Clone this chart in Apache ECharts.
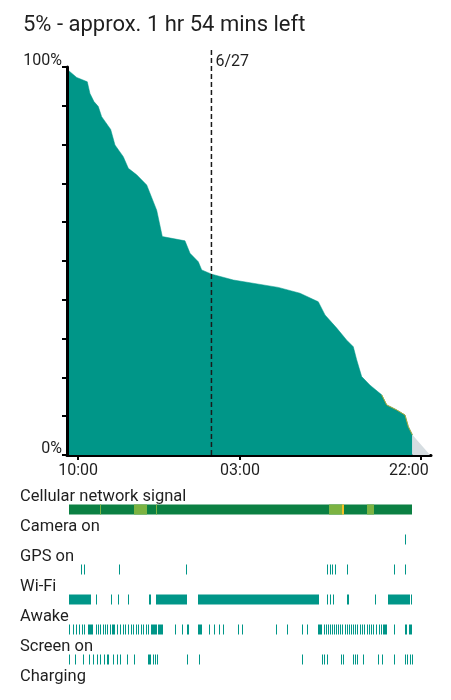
<!DOCTYPE html>
<html>
<head>
<meta charset="utf-8">
<title>Battery</title>
<script src="https://cdn.jsdelivr.net/npm/echarts@6/dist/echarts.min.js"></script>
<style>
  html, body { margin: 0; padding: 0; background: #fff; }
  #main { width: 451px; height: 700px; }
</style>
</head>
<body>
<div id="main"></div>
<script>
// hours counted from 6/26 00:00, so 24 = midnight of 6/27
const titleText = '5% - approx. 1 hr 54 mins left'
const axisMin = 8.83
const axisMax = 47.06
const tickHours = [10, 27, 46]
const dayBoundary = [24, '6/27']

const batteryLevel = [
  [9.04, 99.0], [9.85, 97.3], [10.96, 96.2], [11.24, 93.2], [11.66, 91.1],
  [12.12, 89.8], [12.47, 87.2], [13.42, 83.9], [13.87, 79.9], [14.74, 76.9],
  [15.27, 73.9], [16.15, 72.2], [17.20, 69.6], [18.25, 63.1], [18.84, 56.3],
  [21.22, 55.2], [21.75, 52.0], [22.62, 49.8], [22.98, 47.7], [24.03, 46.6],
  [26.30, 45.1], [31.02, 43.2], [33.30, 41.7], [35.22, 39.5], [35.93, 36.1],
  [37.16, 32.7], [38.21, 29.6], [38.90, 27.9], [39.26, 24.5], [39.78, 20.2],
  [40.66, 18.0], [41.88, 15.5], [42.41, 12.9], [43.46, 11.6], [44.33, 10.3],
  [44.68, 7.3], [45.10, 5.2]
]
const projection = [[45.10, 5.2], [46.96, 0]]

const rowNames = ['Cellular network signal', 'Camera on', 'GPS on', 'Wi-Fi', 'Awake', 'Screen on', 'Charging']

const cellularRuns = [
  [9.04, 45.10, 'great'], [12.30, 12.42, 'good'], [15.87, 17.26, 'good'],
  [18.20, 18.32, 'good'], [36.38, 37.68, 'good'], [37.68, 37.88, 'moderate'],
  [40.31, 41.11, 'good']
]
const cameraRuns = [[44.30, 44.38]]
const gpsRuns = [
  [10.27, 10.35], [10.64, 10.72], [14.24, 14.40], [21.36, 21.44], [36.17, 36.25],
  [36.41, 36.51], [36.70, 36.80], [36.97, 37.05], [38.22, 38.38], [43.14, 43.22],
  [44.32, 44.40]
]
const wifiRuns = [
  [9.07, 11.35], [11.91, 11.99], [13.48, 13.56], [14.22, 14.34], [15.23, 15.31],
  [17.43, 17.51], [17.58, 17.66], [18.15, 21.40], [22.62, 35.30], [36.17, 36.25],
  [36.41, 36.49], [36.76, 36.84], [38.21, 38.42], [41.21, 41.29], [42.51, 44.86],
  [45.00, 45.10]
]
const awakeRuns = [
  [9.07, 9.17], [9.43, 9.53], [9.77, 9.87], [10.12, 10.22], [10.37, 10.47],
  [10.61, 10.71], [11.07, 11.59], [11.87, 11.97], [12.12, 12.22], [12.29, 12.39],
  [12.58, 12.68], [12.82, 12.92], [13.06, 13.16], [13.34, 13.44], [13.52, 13.87],
  [14.11, 14.21], [14.39, 14.49], [14.68, 14.78], [14.92, 15.02], [15.27, 15.37],
  [15.52, 15.62], [15.79, 15.89], [16.08, 16.18], [16.32, 16.42], [16.57, 16.67],
  [16.84, 16.94], [17.13, 17.23], [17.37, 17.47], [17.62, 18.25], [18.42, 18.88],
  [20.17, 20.25], [20.88, 20.96], [21.40, 21.67], [22.62, 22.98], [23.74, 23.82],
  [24.27, 24.35], [24.83, 24.91], [25.25, 25.33], [26.82, 26.90], [27.18, 27.26],
  [30.78, 30.86], [31.91, 31.99], [33.48, 33.56], [34.01, 34.09], [35.22, 35.61],
  [35.77, 35.87], [35.98, 36.08], [36.19, 36.29], [36.40, 36.50], [36.61, 36.71],
  [36.82, 36.92], [37.03, 37.13], [37.24, 37.34], [37.50, 37.60], [37.71, 37.81],
  [37.98, 38.08], [38.24, 38.34], [38.45, 38.55], [38.66, 38.76], [38.87, 38.97],
  [39.13, 39.23], [39.34, 39.44], [39.61, 39.71], [39.82, 39.92], [40.03, 40.13],
  [40.29, 40.39], [40.55, 40.65], [40.76, 40.86], [41.02, 41.12], [41.29, 41.39],
  [41.55, 41.65], [41.81, 41.91], [41.99, 42.47], [43.18, 43.28], [44.33, 44.59],
  [44.75, 45.10]
]
const screenRuns = [
  [9.07, 9.17], [9.67, 9.77], [10.54, 10.64], [11.17, 11.27], [11.59, 11.69],
  [11.95, 12.05], [12.29, 12.39], [12.71, 12.81], [13.06, 13.27], [13.69, 13.79],
  [14.11, 14.21], [14.39, 14.50], [15.10, 15.20], [15.87, 15.97], [17.37, 17.62],
  [17.89, 18.00], [18.10, 18.20], [18.30, 18.42], [21.40, 21.50], [22.72, 22.82],
  [33.48, 33.56], [35.58, 35.66], [35.82, 35.90], [36.17, 36.25], [37.58, 37.66],
  [37.85, 37.93], [38.90, 38.98], [39.13, 39.21], [39.32, 39.40], [39.95, 40.03],
  [41.53, 41.61], [41.88, 41.96], [43.18, 43.26], [44.33, 44.41], [44.57, 44.65],
  [44.86, 44.94], [45.02, 45.10]
]

const teal = '#009688'
const signalColors = { great: '#0b8043', good: '#7cb342', moderate: '#f6c026' }
const font = 'Roboto'
const textColor = '#1f1f1f'

function pad2(n) {
  return (n < 10 ? '0' : '') + n
}

// one rect per run, snapped to whole pixels so thin runs stay crisp
function renderRun(params, api) {
  const row = api.value(2)
  const p0 = api.coord([api.value(0), row])
  const p1 = api.coord([api.value(1), row])
  const x0 = Math.round(p0[0])
  const x1 = Math.max(Math.round(p1[0]), x0 + 1)
  const h = 10
  return {
    type: 'rect',
    shape: { x: x0, y: p0[1] - h / 2, width: x1 - x0, height: h },
    style: { fill: api.visual('color') }
  }
}

function runSeries(name, runs, colorOf) {
  const row = rowNames.indexOf(name)
  return {
    type: 'custom',
    name: name,
    xAxisIndex: 1,
    yAxisIndex: 1,
    renderItem: renderRun,
    encode: { x: [0, 1], y: 2 },
    data: runs.map(r => ({
      value: [r[0], r[1], row],
      itemStyle: { color: colorOf ? colorOf(r) : teal }
    }))
  }
}

const chart = echarts.init(document.getElementById('main'))

const option = {
  animation: false,
  backgroundColor: '#fff',
  textStyle: { fontFamily: font },
  title: {
    text: titleText,
    left: 18,
    top: 9,
    textStyle: { fontFamily: font, fontSize: 22, fontWeight: 'normal', color: textColor }
  },
  grid: [
    { left: 67, right: 20, top: 67, bottom: 245, outerBoundsMode: 'none' },
    { left: 67, right: 20, top: 494.5, height: 210, outerBoundsMode: 'none' },
    { left: 67, right: 20, top: 50, bottom: 245, outerBoundsMode: 'none' }
  ],
  xAxis: [
    {
      type: 'value',
      gridIndex: 0,
      min: axisMin,
      max: axisMax,
      splitLine: { show: false },
      axisLine: { show: true, lineStyle: { color: '#000', width: 3 } },
      axisTick: { show: true, length: 5, lineStyle: { color: '#000', width: 2 }, customValues: tickHours },
      axisLabel: {
        customValues: tickHours,
        margin: 8,
        fontFamily: font,
        fontSize: 16,
        color: textColor,
        formatter: v => {
          const t = pad2(Math.round(v) % 24) + ':00'
          return v === tickHours[tickHours.length - 1] ? '{r|' + t + '}' : t
        },
        rich: { r: { fontFamily: font, fontSize: 16, color: textColor, padding: [0, 24, 0, 0] } }
      }
    },
    { type: 'value', gridIndex: 1, min: axisMin, max: axisMax, show: false },
    { type: 'value', gridIndex: 2, min: axisMin, max: axisMax, show: false }
  ],
  yAxis: [
    {
      type: 'value',
      gridIndex: 0,
      min: 0,
      max: 100,
      interval: 10,
      splitLine: { show: false },
      axisLine: { show: true, lineStyle: { color: '#000', width: 3 } },
      axisTick: { show: true, length: 5, lineStyle: { color: '#000', width: 2 } },
      axisLabel: {
        margin: 5,
        fontFamily: font,
        fontSize: 16,
        color: textColor,
        verticalAlign: 'bottom',
        lineHeight: 13,
        formatter: v => (v === 0 || v === 100) ? v + '%' : ''
      }
    },
    {
      type: 'category',
      gridIndex: 1,
      inverse: true,
      data: rowNames,
      axisLine: { show: false },
      axisTick: { show: false },
      splitLine: { show: false },
      axisLabel: {
        interval: 0,
        showMinLabel: true,
        showMaxLabel: true,
        hideOverlap: false,
        align: 'left',
        margin: 47,
        verticalAlign: 'middle',
        formatter: v => '{a|' + v + '}\n{a| }',
        rich: { a: { fontFamily: font, fontSize: 16.5, color: textColor, lineHeight: 26 } }
      }
    },
    { type: 'value', gridIndex: 2, min: 0, max: 1, show: false }
  ],
  series: [
    {
      type: 'line',
      name: 'Battery',
      xAxisIndex: 0,
      yAxisIndex: 0,
      data: batteryLevel,
      showSymbol: false,
      lineStyle: { color: teal, width: 0.5 },
      areaStyle: { color: teal, opacity: 1 },
      z: 2
    },
    {
      type: 'line',
      name: 'Low',
      xAxisIndex: 0,
      yAxisIndex: 0,
      data: batteryLevel.filter(p => p[0] >= 41.8),
      showSymbol: false,
      lineStyle: { color: '#a9a83a', width: 1 },
      z: 3
    },
    {
      type: 'line',
      name: 'Projection',
      xAxisIndex: 0,
      yAxisIndex: 0,
      data: projection,
      showSymbol: false,
      lineStyle: { width: 0 },
      areaStyle: { color: '#d6dde1', opacity: 1 },
      z: 2
    },
    {
      type: 'line',
      name: 'Day',
      xAxisIndex: 2,
      yAxisIndex: 2,
      data: [
        [dayBoundary[0], 0],
        {
          value: [dayBoundary[0], 1],
          label: {
            show: true,
            position: 'right',
            distance: 4,
            offset: [0, 12],
            formatter: dayBoundary[1],
            fontFamily: font,
            fontSize: 16,
            color: textColor
          }
        }
      ],
      showSymbol: true,
      symbolSize: 0,
      lineStyle: { color: '#1a1a1a', width: 1.5, type: [5, 3] },
      z: 5
    },
    runSeries('Cellular network signal', cellularRuns, r => signalColors[r[2]]),
    runSeries('Camera on', cameraRuns),
    runSeries('GPS on', gpsRuns),
    runSeries('Wi-Fi', wifiRuns),
    runSeries('Awake', awakeRuns),
    runSeries('Screen on', screenRuns)
  ]
}

chart.setOption(option)
</script>
</body>
</html>
